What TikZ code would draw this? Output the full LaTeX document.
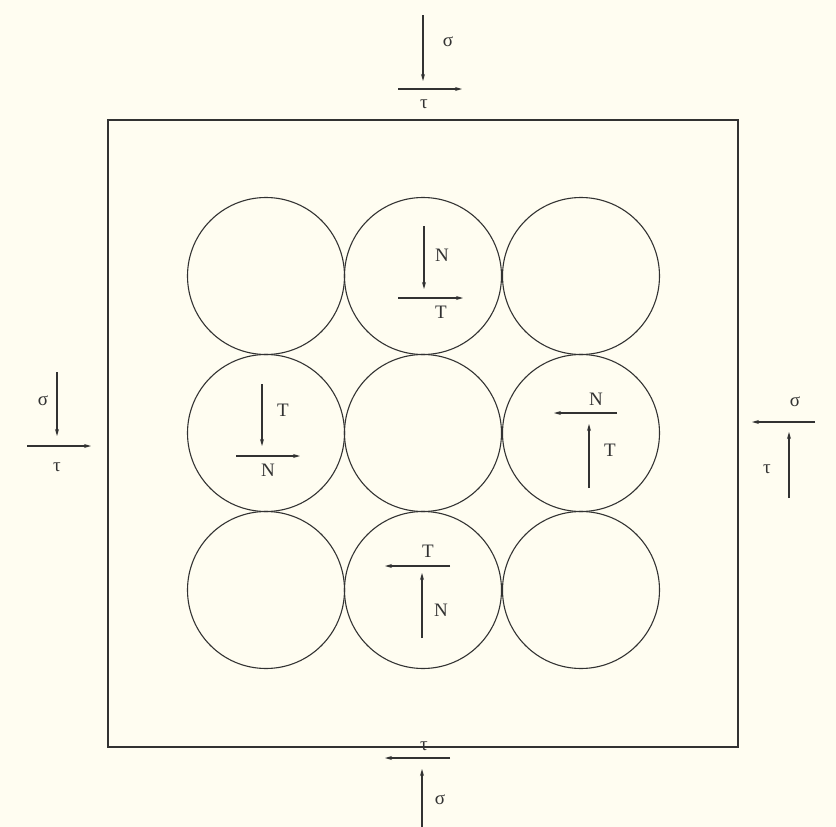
\documentclass[tikz,border=0pt]{standalone}
\usepackage{fontspec}
\setmainfont{Liberation Serif}
\usetikzlibrary{arrows.meta}
\definecolor{bgc}{RGB}{255,253,241}
\definecolor{ink}{RGB}{50,50,50}
\begin{document}
\begin{tikzpicture}[x=1pt,y=-1pt,
  grain/.style={draw=ink,line width=1.1pt,circle,minimum size=157pt,inner sep=0pt},
  force/.style={draw=ink,line width=1.4pt,-{Stealth[length=7pt,width=4pt]}},
  lbl/.style={font=\fontsize{19}{19}\selectfont,text=ink,inner sep=0pt}]
\fill[bgc] (0,0) rectangle (836,827);
\useasboundingbox (0,0) rectangle (836,827);
\node[draw=ink,line width=1.8pt,minimum width=630pt,minimum height=627pt,inner sep=0pt] (box) at (423,433.5) {};
% grains
\foreach \r/\y in {1/276,2/433,3/590}{
  \foreach \c/\x in {1/266,2/423,3/581}{
    \node[grain] (g\r\c) at (\x,\y) {};
  }
}
% top-middle grain
\coordinate (a1s) at (424,226); \coordinate (a1e) at (424,289);
\draw[force] (a1s) -- (a1e);
\node[lbl] (a1l) at (442,255) {N};
\coordinate (b1s) at (398,298); \coordinate (b1e) at (463,298);
\draw[force] (b1s) -- (b1e);
\node[lbl] (b1l) at (441,312) {T};
% middle-left grain
\coordinate (a2s) at (262,384); \coordinate (a2e) at (262,446);
\draw[force] (a2s) -- (a2e);
\node[lbl] (a2l) at (283,410) {T};
\coordinate (b2s) at (236,456); \coordinate (b2e) at (300,456);
\draw[force] (b2s) -- (b2e);
\node[lbl] (b2l) at (268,470) {N};
% middle-right grain
\coordinate (a3s) at (617,413); \coordinate (a3e) at (554,413);
\draw[force] (a3s) -- (a3e);
\node[lbl] (a3l) at (596,399) {N};
\coordinate (b3s) at (589,488); \coordinate (b3e) at (589,424);
\draw[force] (b3s) -- (b3e);
\node[lbl] (b3l) at (610,450) {T};
% bottom-middle grain
\coordinate (a4s) at (450,566); \coordinate (a4e) at (385,566);
\draw[force] (a4s) -- (a4e);
\node[lbl] (a4l) at (428,551) {T};
\coordinate (b4s) at (422,638); \coordinate (b4e) at (422,573);
\draw[force] (b4s) -- (b4e);
\node[lbl] (b4l) at (441,610) {N};
% outside top
\coordinate (t1s) at (423,15); \coordinate (t1e) at (423,81);
\draw[force] (t1s) -- (t1e);
\node[lbl] (t1l) at (448,42) {σ};
\coordinate (t2s) at (398,89); \coordinate (t2e) at (462,89);
\draw[force] (t2s) -- (t2e);
\node[lbl] (t2l) at (424,104) {τ};
% outside left
\coordinate (l1s) at (57,372); \coordinate (l1e) at (57,436);
\draw[force] (l1s) -- (l1e);
\node[lbl] (l1l) at (43,401) {σ};
\coordinate (l2s) at (27,446); \coordinate (l2e) at (91,446);
\draw[force] (l2s) -- (l2e);
\node[lbl] (l2l) at (57,467) {τ};
% outside right
\coordinate (r1s) at (815,422); \coordinate (r1e) at (752,422);
\draw[force] (r1s) -- (r1e);
\node[lbl] (r1l) at (795,402) {σ};
\coordinate (r2s) at (789,498); \coordinate (r2e) at (789,432);
\draw[force] (r2s) -- (r2e);
\node[lbl] (r2l) at (767,469) {τ};
% outside bottom
\coordinate (d1s) at (450,758); \coordinate (d1e) at (385,758);
\draw[force] (d1s) -- (d1e);
\node[lbl] (d1l) at (424,746) {τ};
\coordinate (d2s) at (422,827); \coordinate (d2e) at (422,769);
\draw[force] (d2s) -- (d2e);
\node[lbl] (d2l) at (440,800) {σ};
\end{tikzpicture}
\end{document}
